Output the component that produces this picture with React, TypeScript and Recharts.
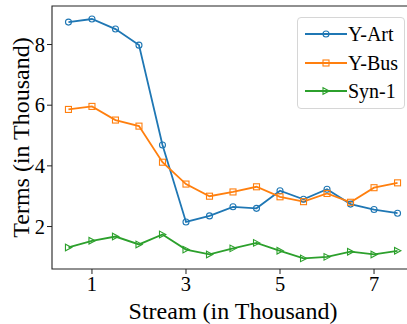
import { LineChart, Line, XAxis, YAxis, ReferenceArea, Label } from "recharts";

// stream size (in thousand)
const streams = [0.5, 1, 1.5, 2, 2.5, 3, 3.5, 4, 4.5, 5, 5.5, 6, 6.5, 7, 7.5];

// terms (in thousand)
const yArt = [8.74, 8.84, 8.51, 7.98, 4.69, 2.15, 2.35, 2.65, 2.6, 3.18, 2.9, 3.23, 2.74, 2.56, 2.44];
const yBus = [5.86, 5.96, 5.51, 5.31, 4.12, 3.4, 3.0, 3.14, 3.31, 2.98, 2.82, 3.09, 2.8, 3.28, 3.44];
const syn1 = [1.31, 1.53, 1.67, 1.41, 1.74, 1.24, 1.08, 1.28, 1.46, 1.2, 0.95, 1.0, 1.17, 1.08, 1.2];

const xTicks = [1, 3, 5, 7];
const yTicks = [2, 4, 6, 8];

const FONT = "'Liberation Serif', 'Times New Roman', serif";

const series = [
  { key: "yArt", name: "Y-Art", color: "#1f77b4", marker: "circle" },
  { key: "yBus", name: "Y-Bus", color: "#ff7f0e", marker: "square" },
  { key: "syn1", name: "Syn-1", color: "#2ca02c", marker: "triangle" },
];

const data = streams.map((x, i) => ({
  x,
  yArt: yArt[i],
  yBus: yBus[i],
  syn1: syn1[i],
}));

function Marker({ kind, cx, cy, color }: { kind: string; cx: number; cy: number; color: string }) {
  if (kind === "circle") {
    return <circle cx={cx} cy={cy} r={3} fill="none" stroke={color} strokeWidth={1.1} />;
  }
  if (kind === "square") {
    return <rect x={cx - 3} y={cy - 3} width={6} height={6} fill="none" stroke={color} strokeWidth={1.1} />;
  }
  return (
    <polygon
      points={`${cx - 3},${cy - 3.3} ${cx - 3},${cy + 3.3} ${cx + 3.3},${cy}`}
      fill="none"
      stroke={color}
      strokeWidth={1.1}
    />
  );
}

function LegendBox() {
  return (
    <div
      style={{
        position: "absolute",
        left: 297,
        top: 17,
        width: 106,
        height: 90,
        border: "1px solid #d6d6d6",
        borderRadius: 4,
        background: "rgba(255,255,255,0.8)",
        fontFamily: FONT,
        fontSize: 20,
      }}
    >
      {series.map((s, i) => (
        <div
          key={s.key}
          style={{
            position: "absolute",
            left: 6,
            top: 4 + i * 28.5,
            height: 24,
            display: "flex",
            alignItems: "center",
          }}
        >
          <svg width={44} height={24} style={{ display: "block" }}>
            <line x1={1} x2={43} y1={12} y2={12} stroke={s.color} strokeWidth={1.8} />
            <Marker kind={s.marker} cx={22} cy={12} color={s.color} />
          </svg>
          <span style={{ color: "#000", lineHeight: "24px" }}>{s.name}</span>
        </div>
      ))}
    </div>
  );
}

export default function App() {
  const tickStyle = { fontFamily: FONT, fontSize: 20.5, fill: "#000" };
  return (
    <div
      style={{
        position: "absolute",
        left: 0,
        top: 0,
        width: 407,
        height: 324,
        overflow: "hidden",
        background: "#fff",
      }}
    >
      <LineChart
        width={420}
        height={324}
        data={data}
        margin={{ top: 6, right: 6, left: 0, bottom: 0 }}
      >
        <XAxis
          type="number"
          dataKey="x"
          domain={[0.15, 7.85]}
          ticks={xTicks}
          allowDataOverflow
          height={55}
          tickSize={5}
          tickMargin={2}
          tick={tickStyle}
          axisLine={false}
          tickLine={{ stroke: "#222" }}
        >
          <Label
            value="Stream (in Thousand)"
            position="insideBottom"
            offset={5}
            style={{ fontFamily: FONT, fontSize: 24, fill: "#000" }}
          />
        </XAxis>
        <YAxis
          type="number"
          domain={[0.6, 9.27]}
          ticks={yTicks}
          allowDataOverflow
          width={52}
          tickSize={5}
          tickMargin={2}
          tick={tickStyle}
          axisLine={false}
          tickLine={{ stroke: "#222" }}
        >
          <Label
            content={({ viewBox }: any) => {
              const cx = 29;
              const cy = viewBox.y + viewBox.height / 2;
              return (
                <text
                  x={cx}
                  y={cy}
                  transform={`rotate(-90, ${cx}, ${cy})`}
                  textAnchor="middle"
                  style={{ fontFamily: FONT, fontSize: 24, fill: "#000" }}
                >
                  Terms (in Thousand)
                </text>
              );
            }}
          />
        </YAxis>
        <ReferenceArea
          x1={0.15}
          x2={7.85}
          y1={0.6}
          y2={9.27}
          fill="none"
          fillOpacity={0}
          stroke="#222"
          strokeWidth={1.1}
          strokeOpacity={1}
          ifOverflow="visible"
        />
        {series.map((s) => (
          <Line
            key={s.key}
            dataKey={s.key}
            name={s.name}
            stroke={s.color}
            strokeWidth={1.8}
            isAnimationActive={false}
            dot={(p: any) => (
              <Marker key={`${s.key}-${p.index}`} kind={s.marker} cx={p.cx} cy={p.cy} color={s.color} />
            )}
            activeDot={false}
          />
        ))}
      </LineChart>
      <LegendBox />
    </div>
  );
}
